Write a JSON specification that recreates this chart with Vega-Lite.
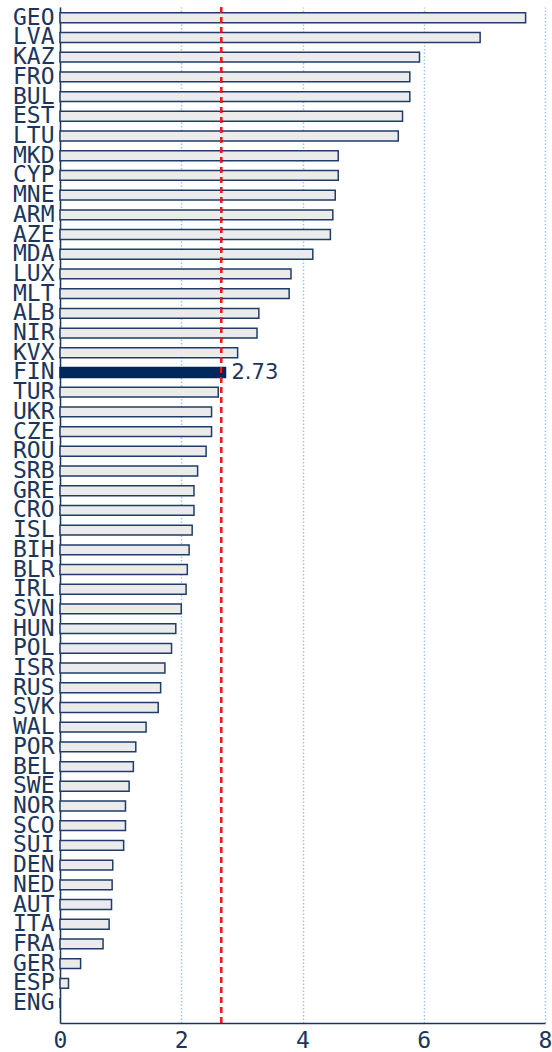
{
  "$schema": "https://vega.github.io/schema/vega-lite/v6.json",
  "width": 485,
  "height": 1016,
  "padding": {"left": 60, "top": 7, "right": 7, "bottom": 29},
  "autosize": {"type": "none"},
  "background": "white",
  "data": {"values": [
    {"team": "GEO", "value": 7.68, "hl": false},
    {"team": "LVA", "value": 6.93, "hl": false},
    {"team": "KAZ", "value": 5.93, "hl": false},
    {"team": "FRO", "value": 5.77, "hl": false},
    {"team": "BUL", "value": 5.77, "hl": false},
    {"team": "EST", "value": 5.65, "hl": false},
    {"team": "LTU", "value": 5.58, "hl": false},
    {"team": "MKD", "value": 4.59, "hl": false},
    {"team": "CYP", "value": 4.59, "hl": false},
    {"team": "MNE", "value": 4.54, "hl": false},
    {"team": "ARM", "value": 4.50, "hl": false},
    {"team": "AZE", "value": 4.46, "hl": false},
    {"team": "MDA", "value": 4.17, "hl": false},
    {"team": "LUX", "value": 3.81, "hl": false},
    {"team": "MLT", "value": 3.78, "hl": false},
    {"team": "ALB", "value": 3.28, "hl": false},
    {"team": "NIR", "value": 3.25, "hl": false},
    {"team": "KVX", "value": 2.93, "hl": false},
    {"team": "FIN", "value": 2.73, "hl": true},
    {"team": "TUR", "value": 2.61, "hl": false},
    {"team": "UKR", "value": 2.50, "hl": false},
    {"team": "CZE", "value": 2.50, "hl": false},
    {"team": "ROU", "value": 2.41, "hl": false},
    {"team": "SRB", "value": 2.27, "hl": false},
    {"team": "GRE", "value": 2.21, "hl": false},
    {"team": "CRO", "value": 2.21, "hl": false},
    {"team": "ISL", "value": 2.18, "hl": false},
    {"team": "BIH", "value": 2.13, "hl": false},
    {"team": "BLR", "value": 2.10, "hl": false},
    {"team": "IRL", "value": 2.08, "hl": false},
    {"team": "SVN", "value": 2.00, "hl": false},
    {"team": "HUN", "value": 1.91, "hl": false},
    {"team": "POL", "value": 1.84, "hl": false},
    {"team": "ISR", "value": 1.73, "hl": false},
    {"team": "RUS", "value": 1.66, "hl": false},
    {"team": "SVK", "value": 1.62, "hl": false},
    {"team": "WAL", "value": 1.42, "hl": false},
    {"team": "POR", "value": 1.25, "hl": false},
    {"team": "BEL", "value": 1.21, "hl": false},
    {"team": "SWE", "value": 1.14, "hl": false},
    {"team": "NOR", "value": 1.08, "hl": false},
    {"team": "SCO", "value": 1.08, "hl": false},
    {"team": "SUI", "value": 1.05, "hl": false},
    {"team": "DEN", "value": 0.87, "hl": false},
    {"team": "NED", "value": 0.86, "hl": false},
    {"team": "AUT", "value": 0.85, "hl": false},
    {"team": "ITA", "value": 0.81, "hl": false},
    {"team": "FRA", "value": 0.71, "hl": false},
    {"team": "GER", "value": 0.34, "hl": false},
    {"team": "ESP", "value": 0.14, "hl": false},
    {"team": "ENG", "value": 0, "hl": false}
  ]},
  "layer": [
    {
      "mark": {"type": "bar", "strokeWidth": 1.5},
      "encoding": {
        "y": {
          "field": "team", "type": "nominal", "sort": null,
          "scale": {"paddingInner": 0.5, "paddingOuter": 0.53, "align": 0.28},
          "axis": {"title": null, "labelFont": "DejaVu Sans Mono", "labelFontSize": 23, "labelColor": "#1b365d", "ticks": false, "labelPadding": 6, "domainColor": "#1b365d", "domainWidth": 1.5, "grid": false}
        },
        "x": {
          "field": "value", "type": "quantitative",
          "scale": {"domain": [0, 8], "nice": false},
          "axis": {"title": null, "values": [0, 2, 4, 6, 8], "format": "d", "grid": true, "gridDash": [1.5, 2], "gridColor": "#9fc4ef", "gridWidth": 1.5, "ticks": false, "tickSize": 0, "labelFont": "DejaVu Sans Mono", "labelFontSize": 23, "labelColor": "#1b365d", "labelPadding": 6, "domainColor": "#1b365d", "domainWidth": 1.5, "labelFlush": false}
        },
        "fill": {"condition": {"test": "datum.hl", "value": "#00275a"}, "value": "#ebebeb"},
        "stroke": {"condition": {"test": "datum.hl", "value": "#00275a"}, "value": "#1f3d68"}
      }
    },
    {
      "mark": {"type": "rule", "color": "#ee1c1c", "strokeWidth": 1.5, "strokeDash": [6, 4]},
      "encoding": {"x": {"datum": 2.66, "type": "quantitative"}}
    },
    {
      "transform": [{"filter": "datum.hl"}],
      "mark": {"type": "text", "align": "left", "baseline": "middle", "dx": 6, "dy": 1, "font": "DejaVu Sans", "fontSize": 21, "color": "#1b365d"},
      "encoding": {
        "y": {"field": "team", "type": "nominal", "sort": null},
        "x": {"field": "value", "type": "quantitative"},
        "text": {"field": "value", "type": "quantitative", "format": ".2f"}
      }
    }
  ],
  "config": {"view": {"stroke": null}}
}
